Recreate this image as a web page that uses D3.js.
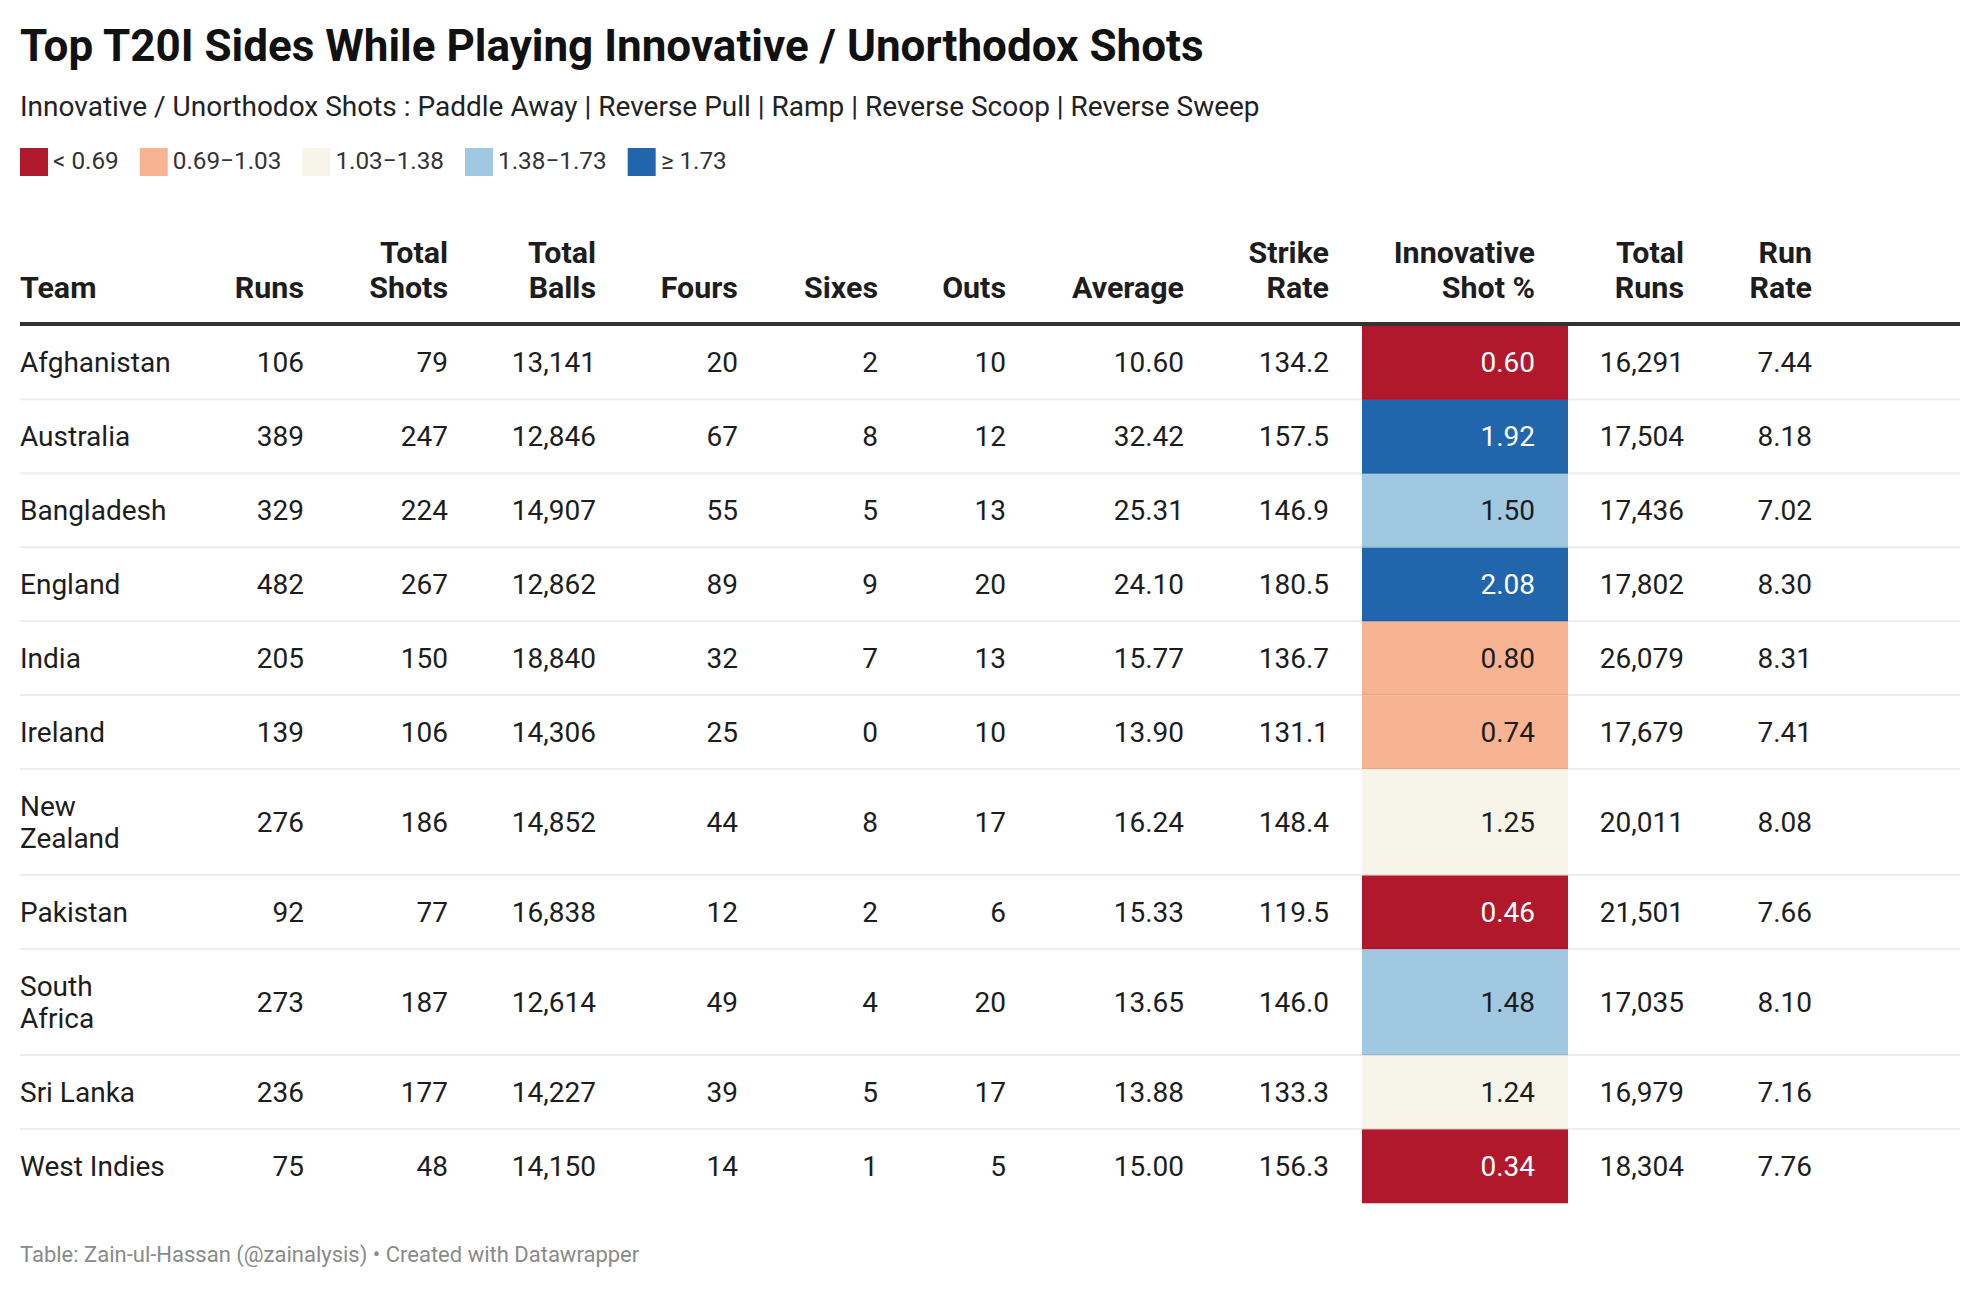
<!DOCTYPE html>
<html lang="en">
<head>
<meta charset="UTF-8">
<title>Top T20I Sides While Playing Innovative / Unorthodox Shots</title>
<script src="https://cdn.jsdelivr.net/npm/d3@7"></script>
<style>
  html, body { margin: 0; padding: 0; background: #fff; }
  svg { display: block; font-family: Roboto, "Noto Sans", sans-serif; }
</style>
</head>
<body>
<svg id="chart" width="1980" height="1290"></svg>
<script>
// table data, one array per column
const teams = ["Afghanistan", "Australia", "Bangladesh", "England", "India", "Ireland",
  "New Zealand", "Pakistan", "South Africa", "Sri Lanka", "West Indies"];
const runs = [106, 389, 329, 482, 205, 139, 276, 92, 273, 236, 75];
const totalShots = [79, 247, 224, 267, 150, 106, 186, 77, 187, 177, 48];
const totalBalls = [13141, 12846, 14907, 12862, 18840, 14306, 14852, 16838, 12614, 14227, 14150];
const fours = [20, 67, 55, 89, 32, 25, 44, 12, 49, 39, 14];
const sixes = [2, 8, 5, 9, 7, 0, 8, 2, 4, 5, 1];
const outs = [10, 12, 13, 20, 13, 10, 17, 6, 20, 17, 5];
const average = [10.60, 32.42, 25.31, 24.10, 15.77, 13.90, 16.24, 15.33, 13.65, 13.88, 15.00];
const strikeRate = [134.2, 157.5, 146.9, 180.5, 136.7, 131.1, 148.4, 119.5, 146.0, 133.3, 156.3];
const innovativePct = [0.60, 1.92, 1.50, 2.08, 0.80, 0.74, 1.25, 0.46, 1.48, 1.24, 0.34];
const totalRuns = [16291, 17504, 17436, 17802, 26079, 17679, 20011, 21501, 17035, 16979, 18304];
const runRate = [7.44, 8.18, 7.02, 8.30, 8.31, 7.41, 8.08, 7.66, 8.10, 7.16, 7.76];

const headerLabels = [["Team"], ["Runs"], ["Total", "Shots"], ["Total", "Balls"], ["Fours"], ["Sixes"],
  ["Outs"], ["Average"], ["Strike", "Rate"], ["Innovative", "Shot %"], ["Total", "Runs"], ["Run", "Rate"]];

// colour buckets for Innovative Shot %
const thresholds = [0.69, 1.03, 1.38, 1.73];
const bucketColors = ["#b2182b", "#f8b393", "#f7f5e9", "#a1c8e1", "#2166ac"];
const legendLabels = ["< 0.69", "0.69\u22121.03", "1.03\u22121.38", "1.38\u22121.73", "\u2265 1.73"];

const title = "Top T20I Sides While Playing Innovative / Unorthodox Shots";
const subtitle = "Innovative / Unorthodox Shots : Paddle Away | Reverse Pull | Ramp | Reverse Scoop | Reverse Sweep";
const footer = "Table: Zain-ul-Hassan (@zainalysis) \u2022 Created with Datawrapper";

// layout
const svg = d3.select("#chart");
const left = 20, right = 1960;
const bodySize = 28, headSize = 30.4;
const singleRow = 73.9, lineStep = 32.2;
const tableTop = 326;
const teamWrapWidth = 152;

const fmtInt = d3.format(","), fmt2 = d3.format(".2f"), fmt1 = d3.format(".1f");

const columns = [
  { key: "team", values: teams, fmt: d => d },
  { key: "runs", values: runs, fmt: fmtInt },
  { key: "shots", values: totalShots, fmt: fmtInt },
  { key: "balls", values: totalBalls, fmt: fmtInt },
  { key: "fours", values: fours, fmt: fmtInt },
  { key: "sixes", values: sixes, fmt: fmtInt },
  { key: "outs", values: outs, fmt: fmtInt },
  { key: "avg", values: average, fmt: fmt2 },
  { key: "sr", values: strikeRate, fmt: fmt1 },
  { key: "innov", values: innovativePct, fmt: fmt2 },
  { key: "truns", values: totalRuns, fmt: fmtInt },
  { key: "rr", values: runRate, fmt: fmt2 }
];

// text anchor x for every column (team is left aligned, the rest right aligned)
const colX = d3.scaleOrdinal()
  .domain(columns.map(c => c.key))
  .range([left, 304, 448, 596, 738, 878, 1006, 1184, 1329, 1535, 1684, 1812]);
const innovCell = { x0: 1362, x1: 1568 };

const color = d3.scaleThreshold().domain(thresholds).range(bucketColors);

// title block
svg.append("text")
  .attr("x", left).attr("y", 61)
  .attr("font-size", 44).attr("font-weight", 700).attr("fill", "#111")
  .text(title);

svg.append("text")
  .attr("x", left).attr("y", 116)
  .attr("font-size", 28).attr("fill", "#222")
  .text(subtitle);

// legend
const legend = svg.append("g").attr("transform", "translate(" + left + ",148)");
let lx = 0;
legendLabels.forEach((lab, i) => {
  const g = legend.append("g").attr("transform", "translate(" + lx + ",0)");
  g.append("rect").attr("width", 28).attr("height", 28).attr("fill", bucketColors[i]);
  const t = g.append("text")
    .attr("x", 33).attr("y", 21)
    .attr("font-size", 24.3).attr("fill", "#333")
    .text(lab);
  lx += 33 + t.node().getComputedTextLength() + 21;
});

// header
const header = svg.append("g");
columns.forEach((c, i) => {
  const lines = headerLabels[i];
  const t = header.append("text")
    .attr("x", colX(c.key))
    .attr("text-anchor", i === 0 ? "start" : "end")
    .attr("font-size", headSize).attr("font-weight", 700).attr("fill", "#1d1d1d");
  lines.forEach((ln, j) => {
    t.append("tspan")
      .attr("x", colX(c.key))
      .attr("y", 298 - (lines.length - 1 - j) * 35)
      .text(ln);
  });
});

// team labels may wrap onto two lines, measure them first
const measure = svg.append("text").attr("font-size", bodySize);
const teamLines = teams.map(name => {
  measure.text(name);
  if (measure.node().getComputedTextLength() > teamWrapWidth && name.includes(" ")) {
    const k = name.indexOf(" ");
    return [name.slice(0, k), name.slice(k + 1)];
  }
  return [name];
});
measure.remove();

const rowHeights = teamLines.map(l => singleRow + (l.length - 1) * lineStep);
const rowTops = [tableTop].concat(Array.from(d3.cumsum(rowHeights), v => tableTop + v)).slice(0, teams.length);

const rows = svg.append("g").selectAll("g.row")
  .data(teams.map((t, i) => i))
  .join("g")
  .attr("class", "row")
  .attr("transform", i => "translate(0," + rowTops[i] + ")");

// coloured cells
rows.append("rect")
  .attr("x", innovCell.x0)
  .attr("width", innovCell.x1 - innovCell.x0)
  .attr("height", i => rowHeights[i])
  .attr("fill", i => color(innovativePct[i]));

// row separators
rows.filter(i => i < teams.length - 1).append("rect")
  .attr("x", left).attr("width", right - left)
  .attr("y", i => rowHeights[i] - 1.5).attr("height", 2)
  .attr("fill", "#000").attr("fill-opacity", 0.07);

// cell text
columns.forEach((c, ci) => {
  rows.append("text")
    .attr("x", colX(c.key))
    .attr("text-anchor", ci === 0 ? "start" : "end")
    .attr("font-size", bodySize)
    .attr("fill", i => {
      if (c.key !== "innov") return "#1d1d1d";
      const v = innovativePct[i];
      return (v < thresholds[0] || v >= thresholds[3]) ? "#fff" : "#1d1d1d";
    })
    .each(function(i) {
      const mid = rowHeights[i] / 2 + 9.5;
      const el = d3.select(this);
      if (ci === 0) {
        const lines = teamLines[i];
        lines.forEach((ln, j) => {
          el.append("tspan")
            .attr("x", colX(c.key))
            .attr("y", mid + (j - (lines.length - 1) / 2) * lineStep)
            .text(ln);
        });
      } else {
        el.attr("y", mid).text(c.fmt(c.values[i]));
      }
    });
});

// thick header rule
svg.append("rect")
  .attr("x", left).attr("y", 322)
  .attr("width", right - left).attr("height", 4)
  .attr("fill", "#333");

// footer
svg.append("text")
  .attr("x", left).attr("y", 1262)
  .attr("font-size", 22).attr("fill", "#8a8a8a")
  .text(footer);
</script>
</body>
</html>
